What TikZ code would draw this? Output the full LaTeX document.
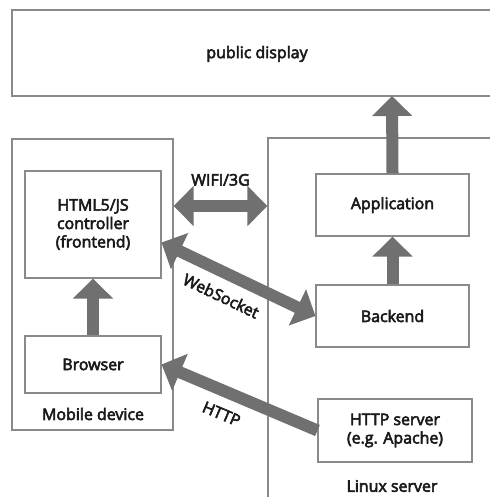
\documentclass[tikz,border=0pt]{standalone}
\usepackage{fontspec}
\setmainfont{Open Sans}[BoldFont=Open Sans,BoldFeatures={FakeBold=3.5}]
\usetikzlibrary{arrows.meta,calc}
\definecolor{framegray}{HTML}{8A8A8A}
\definecolor{arrowgray}{HTML}{707070}
\definecolor{labelink}{HTML}{1A1A1A}
\begin{document}
\begin{tikzpicture}[x=1bp,y=-1bp,
  every node/.style={text=labelink,font=\fontsize{16}{18.5}\selectfont\bfseries},
  frame/.style={draw=framegray,line width=1.1bp},
  unit/.style={frame,minimum width=#1,minimum height=62bp,inner sep=0pt,align=center},
  fat/.style={draw=arrowgray,line width=12bp,
    -{Triangle[width=39bp,length=20bp]}},
  fatboth/.style={draw=arrowgray,line width=12bp,
    {Triangle[width=39bp,length=20bp]}-{Triangle[width=39bp,length=20bp]}}]
\clip (0,0) rectangle (490,497);

% outer areas
\draw[frame] (12,10) rectangle (502,96);
\node (pd) at (257,54) {public display};
\coordinate (pdbottom) at (392,96);
\node[frame,minimum width=161bp,minimum height=291bp,inner sep=0pt] (mobile) at (92.5,284.5) {};
\node[frame,minimum width=260bp,minimum height=380bp,inner sep=0pt] (linux) at (398,328) {};
\node (mobilelbl) at (93,414) {Mobile device};
\node (linuxlbl) at (392,486) {Linux server};

% components
\node[unit=136bp,minimum height=107bp] (html) at (93,224.5) {HTML5/JS\\controller\\(frontend)};
\node[unit=136bp,minimum height=57bp] (browser) at (93,364.5) {Browser};
\node[unit=153bp] (app) at (392.5,205) {Application};
\node[unit=153bp] (backend) at (392.5,316) {Backend};
\node[unit=154bp,minimum height=63bp] (httpd) at (395,430.5) {HTTP server\\(e.g. Apache)};

% connections
\draw[fat] (app.north) -- (pdbottom);
\draw[fat] (backend.north) -- (app.south);
\draw[fat] (browser.north) -- (html.south);
\draw[fatboth] (mobile.east |- 0,206) -- (linux.west |- 0,206)
  node[midway,above=11bp] (wifilbl) {WIFI/3G};
\draw[fatboth] ([yshift=-18bp]html.east) -- (backend.west)
  node[pos=0.45,sloped,below=7bp] (wslbl) {WebSocket};
\draw[fat] (httpd.west) -- (browser.east)
  node[pos=0.56,sloped,below=7bp] (httplbl) {HTTP};
\end{tikzpicture}
\end{document}
